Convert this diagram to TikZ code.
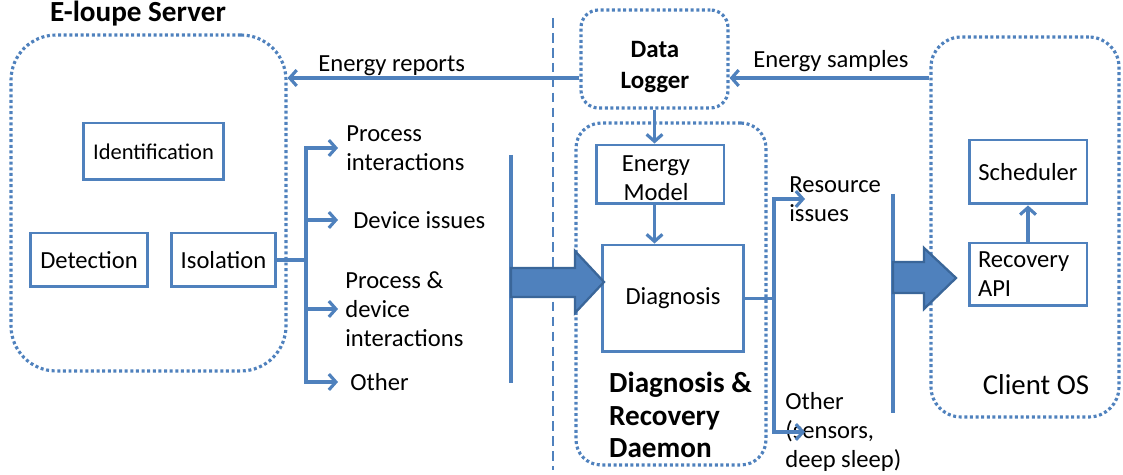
\documentclass[tikz,border=0pt]{standalone}
\usepackage{fontspec}
\setmainfont{Carlito}
\usetikzlibrary{arrows.meta}

\definecolor{lineblue}{HTML}{4F81BD}
\definecolor{edgeblue}{HTML}{3A6699}

\begin{document}
\begin{tikzpicture}[x=0.02cm, y=-0.02cm,
    font=\fontsize{14}{16.4}\selectfont,
    group/.style ={draw=lineblue, line width=1.8pt, dash pattern=on 1.7pt off 1.5pt},
    block/.style ={draw=lineblue, line width=1.7pt, inner sep=0pt, align=center},
    link/.style ={draw=lineblue, line width=1.8pt},
    flow/.style ={link, -{Straight Barb[length=4pt, width=9pt]}},
    tag/.style ={inner sep=0pt, align=left, anchor=west},
    heading/.style ={font=\bfseries\fontsize{16.6}{18.7}\selectfont, align=left},
    fat/.style ={fill=lineblue, draw=edgeblue, line width=1.3pt}]

  \useasboundingbox (0,0) rectangle (1123,475);

  % dotted groups
  \node[group, rounded corners=0.9cm, minimum width=5.5cm, minimum height=6.72cm] (server) at (148.5,203) {};
  \node[group, rounded corners=0.35cm, minimum width=2.94cm, minimum height=1.96cm] (logger) at (654.5,59) {};
  \node[group, rounded corners=0.5cm, minimum width=3.8cm, minimum height=6.84cm] (daemon) at (671,294) {};
  \node[group, rounded corners=0.6cm, minimum width=3.76cm, minimum height=7.6cm] (client) at (1025,227) {};

  % separator
  \draw[lineblue, line width=1.2pt, dash pattern=on 5.5pt off 3pt] (553,18) -- (553,470);

  % headings
  \node[heading] (title) at (138,14) {E-loupe Server};
  \node[heading, font=\bfseries\fontsize{14.2}{17.6}\selectfont, align=center] (loggertext) at (655,67) {Data\\Logger};
  \node[heading, anchor=west] (daemontext) at (603,415) {Diagnosis \&\\Recovery\\Daemon};
  \node[font=\fontsize{16.4}{19}\selectfont] (clienttext) at (1036,385) {Client OS};

  % boxes
  \node[block, minimum width=2.82cm, minimum height=1.14cm, font=\fontsize{12.8}{15}\selectfont] (ident) at (153.5,151.5) {Identification};
  \node[block, minimum width=2.36cm, minimum height=1.08cm] (detect) at (89,260) {Detection};
  \node[block, minimum width=2.1cm, minimum height=1.08cm] (isol) at (223.5,260) {Isolation};
  \node[block, minimum width=2.56cm, minimum height=1.18cm] (emodel) at (660,174.5) {};
  \node[align=center] (emodeltext) at (656,178) {Energy\\Model};
  \node[block, minimum width=2.84cm, minimum height=2.14cm] (diag) at (673,298.5) {Diagnosis};
  \node[block, minimum width=2.36cm, minimum height=1.28cm] (sched) at (1028,172) {Scheduler};
  \node[block, minimum width=2.36cm, minimum height=1.26cm, text width=2.0cm, align=left] (recapi) at (1028,274.5) {Recovery\\API};

  % labels
  \node[tag] (reports) at (318,66) {Energy reports};
  \node[tag] (samples) at (753,61) {Energy samples};
  \node[tag] (pint) at (346,148) {Process\\interactions};
  \node[tag] (dev) at (353,220) {Device issues};
  \node[tag] (pdev) at (345,309) {Process \&\\device\\interactions};
  \node[tag] (oth) at (350,382) {Other};
  \node[tag] (res) at (789,199) {Resource\\issues};
  \node[tag] (othr) at (785,432) {Other\\(sensors,\\deep sleep)};

  % data flow
  \coordinate (rep) at (0,78);
  \draw[flow] (logger.west |- rep) -- (server.east |- rep);
  \draw[flow] (client.west |- rep) -- (logger.east |- rep);
  \draw[flow] (logger.south) -- (logger.south |- emodel.north);
  \draw[flow] (emodel.south -| logger.south) -- (logger.south |- diag.north);
  \draw[flow] (recapi.north) -- (sched.south);

  % server outcomes
  \coordinate (ltrunk) at (306,0);
  \coordinate (ltip) at (338,0);
  \draw[link] (isol.east) -- (isol.east -| ltrunk);
  \draw[flow] (ltrunk |- oth) -- (ltrunk |- pint) -- (ltip |- pint);
  \draw[flow] (ltrunk |- pint) -- (ltrunk |- oth) -- (ltip |- oth);
  \draw[flow] (ltrunk |- dev) -- (ltip |- dev);
  \draw[flow] (ltrunk |- pdev) -- (ltip |- pdev);

  % daemon outcomes
  \coordinate (rtrunk) at (774,0);
  \coordinate (rtip) at (805,0);
  \draw[link] (diag.east) -- (diag.east -| rtrunk);
  \draw[flow] (rtrunk |- othr) -- (rtrunk |- res) -- (rtip |- res);
  \draw[flow] (rtrunk |- res) -- (rtrunk |- othr) -- (rtip |- othr);

  % bars and fat arrows
  \draw[link, line width=2pt] (511,155) -- (511,383);
  \draw[fat] (511,268) -- (575,268) -- (575,251) -- (604,282) -- (575,313) -- (575,297) -- (511,297) -- cycle;
  \draw[link, line width=2pt] (893,194) -- (893,413);
  \draw[fat] (893,262) -- (924,262) -- (924,248) -- (956,278) -- (924,309) -- (924,293) -- (893,293) -- cycle;

\end{tikzpicture}
\end{document}
